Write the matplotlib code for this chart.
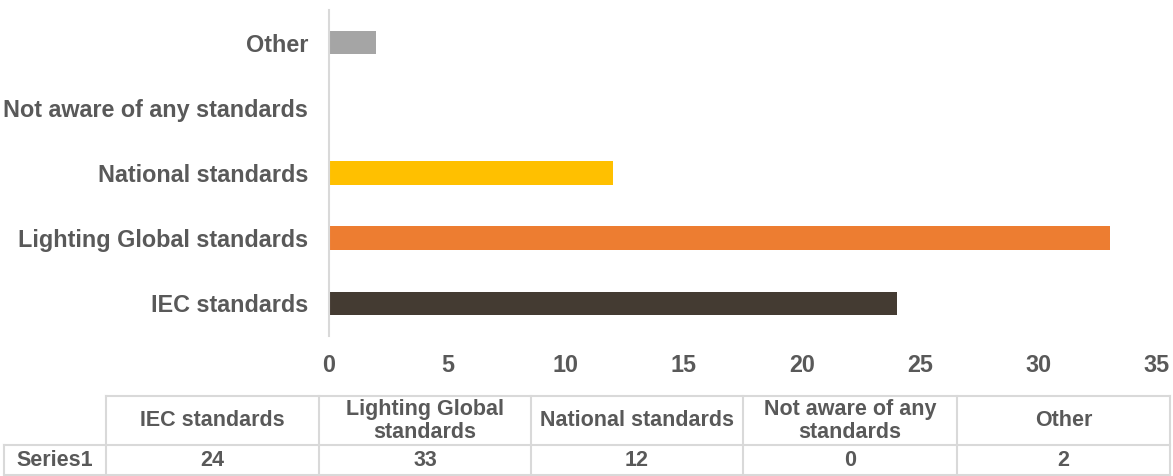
import matplotlib.pyplot as plt

plt.rcParams['font.family'] = ['Liberation Sans', 'DejaVu Sans']

categories = ["IEC standards", "Lighting Global standards", "National standards",
              "Not aware of any standards", "Other"]
table_labels = ["IEC standards", "Lighting Global\nstandards", "National standards",
                "Not aware of any\nstandards", "Other"]
values = [24, 33, 12, 0, 2]
series_name = "Series1"
colors = ["#443b32", "#ed7d31", "#ffc000", "#5b9bd5", "#a5a5a5"]

TXT = "#595959"
GRID = "#d9d9d9"
W, H = 1173, 476

fig = plt.figure(figsize=(W / 100, H / 100), dpi=100)
ax = fig.add_axes([329 / W, (H - 336) / H, (1157 - 329) / W, 326 / H])

ypos = list(range(len(categories)))
ax.barh(ypos, values, height=0.36, color=colors)
ax.set_xlim(0, 35)
ax.set_ylim(-0.5, len(categories) - 0.5)
ax.set_xticks(range(0, 36, 5))
ax.set_yticks(ypos)
ax.set_yticklabels(categories, va="center_baseline")
ax.tick_params(axis="both", length=0, labelsize=16.8, labelcolor=TXT)
ax.tick_params(axis="x", pad=13)
ax.tick_params(axis="y", pad=15)
for lbl in ax.get_xticklabels() + ax.get_yticklabels():
    lbl.set_fontweight("bold")
for s in ["top", "right", "bottom"]:
    ax.spines[s].set_visible(False)
ax.spines["left"].set_color(GRID)
ax.spines["left"].set_linewidth(1.5)

# data table below the chart, drawn in pixel coordinates
tab = fig.add_axes([0, 0, 1, 1], facecolor="none")
tab.set_xlim(0, W)
tab.set_ylim(H, 0)
tab.axis("off")
col_x = [106, 319, 531, 743, 957, 1170]
y_top, y_mid, y_bot = 396, 445, 475
lw = 1.5
tab.plot([col_x[0], col_x[-1]], [y_top, y_top], color=GRID, lw=lw)
tab.plot([4, col_x[-1]], [y_mid, y_mid], color=GRID, lw=lw)
tab.plot([4, col_x[-1]], [y_bot, y_bot], color=GRID, lw=lw)
tab.plot([4, 4], [y_mid, y_bot], color=GRID, lw=lw)
for x in col_x:
    tab.plot([x, x], [y_top, y_bot], color=GRID, lw=lw)

fs = 15.5
for i, (lab, v) in enumerate(zip(table_labels, values)):
    cx = (col_x[i] + col_x[i + 1]) / 2
    tab.text(cx, (y_top + y_mid) / 2 + 0.5, lab, ha="center", va="center",
             fontsize=fs, color=TXT, fontweight="bold", linespacing=1.15)
    tab.text(cx, (y_mid + y_bot) / 2 + 1, str(v), ha="center", va="center",
             fontsize=fs, color=TXT, fontweight="bold")
tab.text(55, (y_mid + y_bot) / 2 + 1, series_name, ha="center", va="center",
         fontsize=fs, color=TXT, fontweight="bold")

fig.savefig("out.png", dpi=100)
